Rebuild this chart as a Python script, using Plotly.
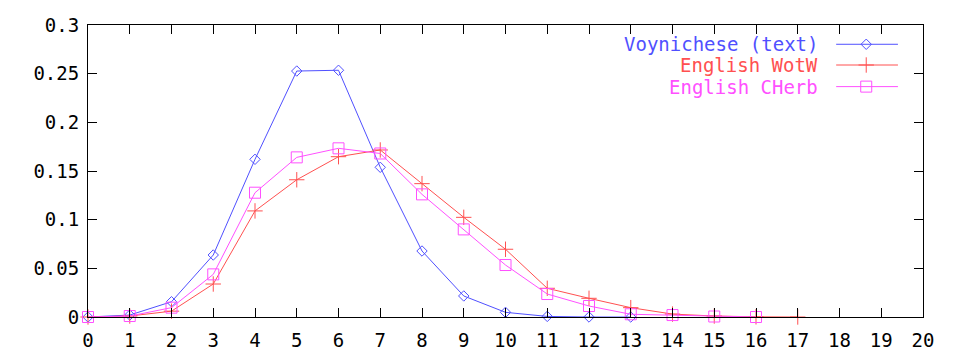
import plotly.graph_objects as go

x_vals = list(range(0, 21))

voy_x = [0, 1, 2, 3, 4, 5, 6, 7, 8, 9, 10, 11, 12, 13]
voy_y = [0.0, 0.002, 0.0157, 0.0637, 0.162, 0.2527, 0.2535, 0.1538, 0.0678, 0.0216, 0.0048, 0.0006, 0.0, 0.0]

wotw_x = [0, 1, 2, 3, 4, 5, 6, 7, 8, 9, 10, 11, 12, 13, 14, 15, 16, 17]
wotw_y = [0.0, 0.001, 0.006, 0.0339, 0.109, 0.141, 0.1647, 0.1716, 0.137, 0.1024, 0.0696, 0.0295, 0.0192, 0.0096, 0.003, 0.001, 0.0002, 0.0]

cherb_x = [0, 1, 2, 3, 4, 5, 6, 7, 8, 9, 10, 11, 12, 13, 14, 15, 16]
cherb_y = [0.0, 0.001, 0.0096, 0.0438, 0.1277, 0.164, 0.1733, 0.168, 0.126, 0.090, 0.0534, 0.0236, 0.0113, 0.0028, 0.002, 0.0005, 0.0]

series_names = ["Voynichese (text)", "English WotW", "English CHerb"]
colors = ["#5050ff", "#ff5050", "#ff50ff"]
symbols = ["diamond-open", "cross-thin-open", "square-open"]
msizes = [8, 11, 11]

y_tickvals = [0, 0.05, 0.1, 0.15, 0.2, 0.25, 0.3]
y_ticktext = ["0", "0.05", "0.1", "0.15", "0.2", "0.25", "0.3"]

FONT = "DejaVu Sans Mono"

fig = go.Figure()
data = [(voy_x, voy_y), (wotw_x, wotw_y), (cherb_x, cherb_y)]
for (xs, ys), name, c, s, ms in zip(data, series_names, colors, symbols, msizes):
    fig.add_trace(go.Scatter(
        x=xs, y=ys, mode="lines+markers", name=name,
        line=dict(color=c, width=1),
        marker=dict(symbol=s, size=ms, color=c, line=dict(color=c, width=1)),
        showlegend=False, cliponaxis=False,
    ))

# custom gnuplot-style legend (text left, sample right) on an overlay axis
leg_rows = [0.934, 0.863, 0.789]
for name, c, s, ms, yr in zip(series_names, colors, symbols, msizes, leg_rows):
    fig.add_trace(go.Scatter(
        x=[0.896, 0.970], y=[yr, yr], mode="lines",
        line=dict(color=c, width=1), xaxis="x2", yaxis="y2", showlegend=False,
        hoverinfo="skip",
    ))
    fig.add_trace(go.Scatter(
        x=[0.932], y=[yr], mode="markers",
        marker=dict(symbol=s, size=ms, color=c, line=dict(color=c, width=1)),
        xaxis="x2", yaxis="y2", showlegend=False, hoverinfo="skip",
    ))
    fig.add_annotation(
        x=0.8766, y=yr, xref="paper", yref="paper", text=name,
        showarrow=False, xanchor="right", yanchor="middle",
        font=dict(family=FONT, size=19, color=c),
    )

fig.update_layout(
    width=952, height=352,
    margin=dict(l=80, r=37, t=17, b=43),
    paper_bgcolor="white", plot_bgcolor="white",
    font=dict(family=FONT, size=19, color="black"),
    xaxis=dict(
        range=[0, 20], tickvals=x_vals, ticktext=[str(v) for v in x_vals],
        ticks="inside", ticklen=9, tickwidth=1, tickcolor="black",
        showline=True, linecolor="black", linewidth=1, mirror="ticks",
        showgrid=False, zeroline=False, ticklabelstandoff=6, automargin=False,
    ),
    yaxis=dict(
        range=[0, 0.3], tickvals=y_tickvals, ticktext=y_ticktext,
        ticks="inside", ticklen=9, tickwidth=1, tickcolor="black",
        showline=True, linecolor="black", linewidth=1, mirror="ticks",
        showgrid=False, zeroline=False, ticklabelstandoff=4, automargin=False,
    ),
    xaxis2=dict(range=[0, 1], overlaying="x", visible=False, fixedrange=True),
    yaxis2=dict(range=[0, 1], overlaying="y", visible=False, fixedrange=True),
)

fig.write_html("out.html")
